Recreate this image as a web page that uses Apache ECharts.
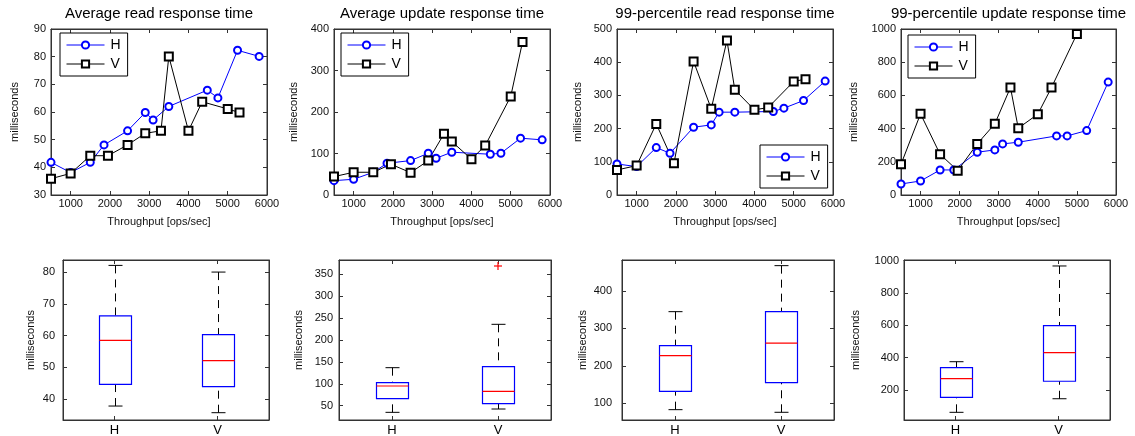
<!DOCTYPE html>
<html>
<head>
<meta charset="utf-8">
<title>Response time H vs V</title>
<script src="https://cdn.jsdelivr.net/npm/echarts@6/dist/echarts.min.js"></script>
<style>html,body{margin:0;padding:0;background:#fff;}</style>
</head>
<body>
<div id="main" style="width:1135px;height:436px;"></div>
<script>
// throughput of each measurement (ops/sec)
var throughputH = [500, 1000, 1500, 1850, 2450, 2900, 3100, 3500, 4480, 4750, 5250, 5800];
var throughputV = [500, 1000, 1500, 1950, 2450, 2900, 3300, 3500, 4000, 4350, 5000, 5300];
var throughputV99upd = [500, 1000, 1500, 1950, 2450, 2900, 3300, 3500, 4000, 4350, 5000];

// response times in milliseconds
var readAvgH = [41.8, 38.1, 41.8, 48.1, 53.2, 59.8, 57.1, 62.0, 67.9, 65.1, 82.3, 80.1];
var readAvgV = [35.9, 37.8, 44.2, 44.2, 48.1, 52.3, 53.2, 80.1, 53.2, 63.7, 61.1, 59.8];
var updAvgH = [34.6, 37.9, 54.8, 76.5, 82.9, 100.6, 88.6, 103.1, 98.2, 100.6, 136.9, 132.9];
var updAvgV = [44.3, 54.8, 54.8, 74.1, 53.9, 82.9, 147.3, 128.8, 86.2, 119.1, 237.5, 368.8];
var read99H = [93.5, 85.5, 142.8, 125.7, 204.2, 211.2, 249.5, 249.5, 251.5, 261.5, 284.6, 343];
var read99V = [75.4, 88.5, 214.2, 95.5, 402.3, 259.5, 465.7, 316.8, 256.5, 263.5, 342, 349];
var upd99H = [66.4, 84.5, 150.9, 150.9, 257.7, 271.6, 307.8, 317.9, 356, 356, 388, 680];
var upd99V = [185, 489, 245.4, 146.8, 307.8, 428.5, 647.6, 402.5, 487, 647.6, 969.8];

// box plots: [min, q1, median, q3, max]
var boxCats = ['H', 'V'];
var boxReadAvgH = [37.8, 44.6, 58.5, 66.2, 82.1];
var boxReadAvgV = [35.7, 43.9, 52.1, 60.3, 80.0];
var boxUpdAvgH = [34.8, 66, 94.9, 102.5, 136.8];
var boxUpdAvgV = [42.4, 54.6, 82.7, 139, 235.8];
var outlierUpdAvgV = [369];
var boxRead99H = [83, 132, 227.3, 254, 344.8];
var boxRead99V = [76, 155.2, 261, 344.8, 467.7];
var boxUpd99H = [62, 155, 270, 338, 375];
var boxUpd99V = [146, 254, 431, 598, 967];

// ticks
var xTicks = [1000, 2000, 3000, 4000, 5000, 6000];
var titles = ['Average read response time', 'Average update response time',
              '99-percentile read response time', '99-percentile update response time'];
var yTopTicks = [[30, 40, 50, 60, 70, 80, 90], [0, 100, 200, 300, 400],
                 [0, 100, 200, 300, 400, 500], [0, 200, 400, 600, 800, 1000]];
var yBoxTicks = [[40, 50, 60, 70, 80], [50, 100, 150, 200, 250, 300, 350],
                 [100, 200, 300, 400], [200, 400, 600, 800, 1000]];

var zip = function (xs, ys) { return ys.map(function (v, i) { return [xs[i], v]; }); };

var lineSets = [
    [zip(throughputH, readAvgH), zip(throughputV, readAvgV)],
    [zip(throughputH, updAvgH), zip(throughputV, updAvgV)],
    [zip(throughputH, read99H), zip(throughputV, read99V)],
    [zip(throughputH, upd99H), zip(throughputV99upd, upd99V)]
];
var boxSets = [
    [boxReadAvgH, boxReadAvgV, []],
    [boxUpdAvgH, boxUpdAvgV, outlierUpdAvgV],
    [boxRead99H, boxRead99V, []],
    [boxUpd99H, boxUpd99V, []]
];

// layout
var topGrid = [{left: 51, width: 216}, {left: 334, width: 216}, {left: 617, width: 216}, {left: 901, width: 215}];
var boxGrid = [{left: 63, width: 206}, {left: 339, width: 212}, {left: 622, width: 212}, {left: 904, width: 206}];
var topYRange = [[30, 90], [0, 400], [0, 500], [0, 1000]];
var boxYRange = [[33.4, 83.8], [17.3, 382.7], [55.4, 482.8], [14.5, 1004]];
var topNameGap = [31, 35, 34, 42];
var boxNameGap = [27, 35, 34, 43];
var boxLabelMargin = [8, 6, 10, 5];
var legendPos = [{left: 60, top: 33}, {left: 341, top: 33}, {left: 760, top: 145}, {left: 908, top: 35}];

var FONT = 'Liberation Sans';
var AX = '#333';
var plain = function (v) { return String(v); };

function axis(pos, show) {
    return {
        position: pos,
        axisLine: {show: true, onZero: false, lineStyle: {color: AX, width: 1}},
        axisTick: {show: true, inside: true, length: 4, lineStyle: {color: AX}},
        splitLine: {show: false},
        axisLabel: {show: show, color: '#111', fontSize: 11, fontFamily: FONT, formatter: plain}
    };
}

function renderBox(params, api) {
    var i = api.value(0);
    var lo = api.coord([i, api.value(1)]);
    var q1 = api.coord([i, api.value(2)]);
    var md = api.coord([i, api.value(3)]);
    var q3 = api.coord([i, api.value(4)]);
    var hi = api.coord([i, api.value(5)]);
    var cx = Math.round(lo[0]) + 0.5, hw = 16, cw = 7;
    var dash = {stroke: '#000', lineWidth: 1, lineDash: [8, 6]};
    var solid = {stroke: '#000', lineWidth: 1};
    return {type: 'group', children: [
        {type: 'line', shape: {x1: cx, y1: hi[1], x2: cx, y2: q3[1]}, style: dash},
        {type: 'line', shape: {x1: cx, y1: lo[1], x2: cx, y2: q1[1]}, style: dash},
        {type: 'line', shape: {x1: cx - cw, y1: hi[1], x2: cx + cw, y2: hi[1]}, style: solid},
        {type: 'line', shape: {x1: cx - cw, y1: lo[1], x2: cx + cw, y2: lo[1]}, style: solid},
        {type: 'rect', shape: {x: cx - hw, y: q3[1], width: 2 * hw, height: q1[1] - q3[1]},
            style: {fill: 'none', stroke: '#0000ff', lineWidth: 1.2}},
        {type: 'line', shape: {x1: cx - hw, y1: md[1], x2: cx + hw, y2: md[1]},
            style: {stroke: '#ff0000', lineWidth: 1.2}}
    ]};
}

function renderPlus(params, api) {
    var p = api.coord([api.value(0), api.value(1)]);
    var s = {stroke: '#ff0000', lineWidth: 1.2};
    return {type: 'group', children: [
        {type: 'line', shape: {x1: p[0] - 4, y1: p[1], x2: p[0] + 4, y2: p[1]}, style: s},
        {type: 'line', shape: {x1: p[0], y1: p[1] - 4, x2: p[0], y2: p[1] + 4}, style: s}
    ]};
}

var grids = [], xAxes = [], yAxes = [], series = [], title = [], legend = [];

for (var k = 0; k < 4; k++) {
    // line charts
    var g = grids.length;
    grids.push({left: topGrid[k].left, width: topGrid[k].width, top: 29, height: 166,
        show: true, borderColor: AX, borderWidth: 1, backgroundColor: '#fff', containLabel: false, outerBoundsMode: 'none'});
    var xb = axis('bottom', true);
    Object.assign(xb, {type: 'value', gridIndex: g, min: 500, max: 6000,
        name: 'Throughput [ops/sec]', nameLocation: 'middle', nameGap: 21,
        nameTextStyle: {color: '#111', fontSize: 11, fontFamily: FONT}});
    xb.axisLabel.customValues = xTicks; xb.axisLabel.margin = 3;
    xb.axisTick.customValues = xTicks;
    var xt = axis('top', false);
    Object.assign(xt, {type: 'value', gridIndex: g, min: 500, max: 6000});
    xt.axisTick.customValues = xTicks;
    var yl = axis('left', true);
    Object.assign(yl, {type: 'value', gridIndex: g, min: topYRange[k][0], max: topYRange[k][1],
        name: 'milliseconds', nameLocation: 'middle', nameGap: topNameGap[k],
        nameTextStyle: {color: '#111', fontSize: 11, fontFamily: FONT}});
    yl.axisLabel.customValues = yTopTicks[k]; yl.axisLabel.margin = 5;
    yl.axisTick.customValues = yTopTicks[k];
    var yr = axis('right', false);
    Object.assign(yr, {type: 'value', gridIndex: g, min: topYRange[k][0], max: topYRange[k][1]});
    yr.axisTick.customValues = yTopTicks[k];
    xAxes.push(xb, xt); yAxes.push(yl, yr);

    series.push({name: 'H', type: 'line', xAxisIndex: 2 * g, yAxisIndex: 2 * g, data: lineSets[k][0],
        symbol: 'emptyCircle', symbolSize: 7, lineStyle: {color: '#0000ff', width: 1},
        itemStyle: {color: '#0000ff', borderWidth: 1}});
    series.push({name: 'V', type: 'line', xAxisIndex: 2 * g, yAxisIndex: 2 * g, data: lineSets[k][1],
        symbol: 'emptyRect', symbolSize: 8, lineStyle: {color: '#000', width: 1},
        itemStyle: {color: '#000', borderWidth: 1}});

    title.push({text: titles[k], left: topGrid[k].left + topGrid[k].width / 2, top: 6, textAlign: 'center',
        padding: 0, textStyle: {fontSize: 15, fontWeight: 'normal', color: '#000', fontFamily: FONT}});

    legend.push({data: ['H', 'V'], orient: 'vertical', left: legendPos[k].left, top: legendPos[k].top,
        borderColor: '#000', borderWidth: 1, backgroundColor: '#fff', padding: [5, 7, 5, 6],
        itemWidth: 38, itemHeight: 9, itemGap: 5, selectedMode: false,
        lineStyle: {width: 1}, itemStyle: {borderWidth: 1},
        textStyle: {fontSize: 14, color: '#000', fontFamily: FONT, padding: [0, 0, 0, 1]}});
}

for (var k = 0; k < 4; k++) {
    // box plots
    var g = grids.length;
    grids.push({left: boxGrid[k].left, width: boxGrid[k].width, top: 260, height: 160,
        show: true, borderColor: AX, borderWidth: 1, backgroundColor: '#fff', containLabel: false, outerBoundsMode: 'none'});
    var xb = axis('bottom', true);
    Object.assign(xb, {type: 'category', gridIndex: g, data: boxCats, boundaryGap: true});
    xb.axisTick.alignWithLabel = true;
    xb.axisLabel.fontSize = 13; xb.axisLabel.margin = 4; xb.axisLabel.color = '#000';
    var xt = axis('top', false);
    Object.assign(xt, {type: 'category', gridIndex: g, data: boxCats, boundaryGap: true});
    xt.axisTick.alignWithLabel = true;
    var yl = axis('left', true);
    Object.assign(yl, {type: 'value', gridIndex: g, min: boxYRange[k][0], max: boxYRange[k][1],
        name: 'milliseconds', nameLocation: 'middle', nameGap: boxNameGap[k],
        nameTextStyle: {color: '#111', fontSize: 11, fontFamily: FONT}});
    yl.axisLabel.customValues = yBoxTicks[k]; yl.axisLabel.margin = boxLabelMargin[k];
    yl.axisTick.customValues = yBoxTicks[k];
    var yr = axis('right', false);
    Object.assign(yr, {type: 'value', gridIndex: g, min: boxYRange[k][0], max: boxYRange[k][1]});
    yr.axisTick.customValues = yBoxTicks[k];
    xAxes.push(xb, xt); yAxes.push(yl, yr);

    series.push({name: 'box' + k, type: 'custom', xAxisIndex: 2 * g, yAxisIndex: 2 * g,
        renderItem: renderBox, encode: {x: 0, y: [1, 2, 3, 4, 5]},
        data: [[0].concat(boxSets[k][0]), [1].concat(boxSets[k][1])]});
    if (boxSets[k][2].length) {
        series.push({name: 'outlier' + k, type: 'custom', xAxisIndex: 2 * g, yAxisIndex: 2 * g,
            renderItem: renderPlus, encode: {x: 0, y: 1},
            data: boxSets[k][2].map(function (v) { return [1, v]; })});
    }
}

var myChart = echarts.init(document.getElementById('main'));
myChart.setOption({
    animation: false,
    backgroundColor: '#fff',
    textStyle: {fontFamily: FONT},
    title: title,
    legend: legend,
    grid: grids,
    xAxis: xAxes,
    yAxis: yAxes,
    series: series
});
</script>
</body>
</html>
